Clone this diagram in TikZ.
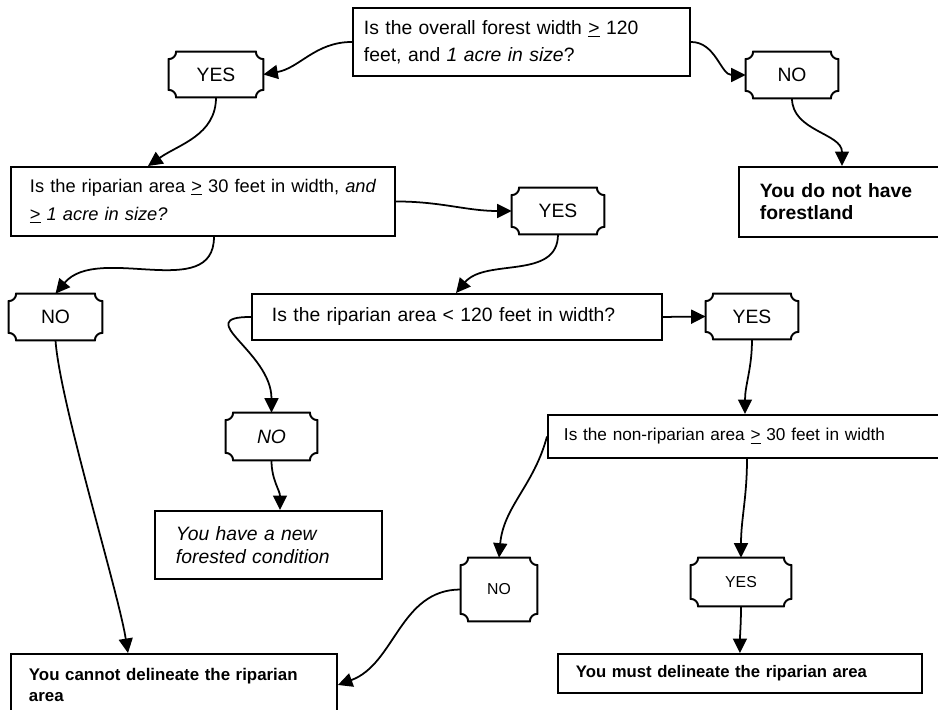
\documentclass[tikz,border=0pt]{standalone}
\usepackage{fontspec}
\setmainfont{Liberation Sans}
\usetikzlibrary{arrows.meta,calc}
\newlength\pxu
\setlength\pxu{0.02cm}
\newcommand{\scoopr}{1.5mm}
% answer frame with scooped corners
\newcommand{\scoopframe}[1]{\draw[line width=1.1pt] ([xshift=\scoopr]#1.north west) -- ([xshift=-\scoopr]#1.north east) arc[start angle=180,end angle=270,radius=\scoopr] -- ([yshift=\scoopr]#1.south east) arc[start angle=90,end angle=180,radius=\scoopr] -- ([xshift=\scoopr]#1.south west) arc[start angle=0,end angle=90,radius=\scoopr] -- ([yshift=-\scoopr]#1.north west) arc[start angle=270,end angle=360,radius=\scoopr] -- cycle;}
\tikzset{
  qbox/.style={draw,line width=1.1pt,anchor=north west,align=left,inner ysep=0pt},
  answer/.style={draw=none,inner sep=0pt,font=\fontsize{11}{13}\selectfont},
  arr/.style={line width=1pt,-{Triangle[length=2.9mm,width=2.8mm]}},
}
\begin{document}
\begin{tikzpicture}[x=0.02cm,y=-0.02cm]
\useasboundingbox (0,0) rectangle (938,710);
%questions and outcomes
\node[qbox,inner xsep=11\pxu,text width=315\pxu,minimum height=68\pxu,font=\fontsize{11}{15.4}\selectfont] (qOverall) at (352,7) {Is the overall forest width \underline{>} 120\\feet, and \textit{1 acre in size}?};
\node[qbox,inner xsep=19\pxu,text width=346\pxu,minimum height=69\pxu,font=\fontsize{10.4}{16}\selectfont] (qRipWide) at (10,166) {\mbox{Is the riparian area \underline{>} 30 feet in width, \textit{and}}\\\underline{>} \textit{1 acre in size?}};
\node[qbox,inner xsep=21\pxu,text width=170\pxu,minimum height=70\pxu,font=\bfseries\fontsize{11}{12.5}\selectfont] (endNoForest) at (738,166) {You do not have\\forestland};
\node[qbox,inner xsep=20\pxu,text width=370\pxu,minimum height=46\pxu,font=\fontsize{11}{13}\selectfont] (qLess) at (251,293) {Is the riparian area < 120 feet in width?};
\node[qbox,inner xsep=16\pxu,text width=370\pxu,minimum height=43\pxu,font=\fontsize{9.8}{12}\selectfont] (qNonRip) at (547,414) {Is the non-riparian area \underline{>} 30 feet in width};
\node[qbox,inner xsep=21\pxu,text width=185\pxu,minimum height=68\pxu,font=\itshape\fontsize{11}{13}\selectfont] (endNew) at (154,510) {You have a new\\forested condition};
\node[qbox,inner xsep=18\pxu,text width=328\pxu,minimum height=39\pxu,font=\bfseries\fontsize{9.5}{11.5}\selectfont] (endMust) at (557,653) {You must delineate the riparian area};
\node[qbox,inner xsep=18\pxu,text width=290\pxu,minimum height=62\pxu,font=\bfseries\fontsize{9.6}{11.5}\selectfont] (endCannot) at (10,653) {You cannot delineate the riparian\\area};
%yes / no answers
\node[answer,minimum width=94\pxu,minimum height=45\pxu] (yesA) at (216,74.5) {YES};
\node[answer,minimum width=92\pxu,minimum height=46\pxu] (noA) at (792,75) {NO};
\node[answer,minimum width=92\pxu,minimum height=46\pxu] (yesB) at (558,211) {YES};
\node[answer,minimum width=93\pxu,minimum height=46\pxu] (noB) at (55.5,317) {NO};
\node[answer,minimum width=92\pxu,minimum height=45\pxu] (yesC) at (752,316.5) {YES};
\node[answer,minimum width=91\pxu,minimum height=47\pxu,font=\itshape\fontsize{11}{13}\selectfont] (noC) at (271.5,436.5) {NO};
\node[answer,minimum width=76\pxu,minimum height=63\pxu,font=\fontsize{9}{11}\selectfont] (noD) at (499,589.5) {NO};
\node[answer,minimum width=100\pxu,minimum height=48\pxu,font=\fontsize{9}{11}\selectfont] (yesD) at (741,582) {YES};
\foreach \n in {yesA,noA,yesB,noB,yesC,noC,noD,yesD} \scoopframe{\n};
%connectors
\draw[arr] (qOverall.west) to[out=180,in=10] (yesA.east);
\draw[arr] (qOverall.east) to[out=0,in=180] (noA.west);
\draw[arr] (yesA.south) to[out=-90,in=35] ($(qRipWide.north west)+(138,0)$);
\draw[arr] (noA.south) to[out=-90,in=90] ($(endNoForest.north west)+(104,0)$);
\draw[arr] (qRipWide.east) to[out=0,in=180] (yesB.west);
\draw[arr] ($(qRipWide.south)+(11,0)$) to[out=-90,in=50] (noB.north);
\draw[arr] (yesB.south) to[out=-90,in=50] ($(qLess.north west)+(205,0)$);
\draw[arr] (qLess.east) -- (yesC.west);
\draw[arr] (qLess.west) to[out=180,in=90,looseness=1.6] (noC.north);
\draw[arr] (noC.south) to[out=-90,in=90] ($(endNew.north west)+(126,0)$);
\draw[arr] (noB.south) to[out=-86,in=99,looseness=0.5] ($(endCannot.north west)+(118,0)$);
\draw[arr] (yesC.south) to[out=-90,in=90] ($(qNonRip.north west)+(198,0)$);
\draw[arr] (qNonRip.west) to[out=-105,in=85] (noD.north);
\draw[arr] ($(qNonRip.south west)+(200,0)$) to[out=-90,in=90] (yesD.north);
\draw[arr] (yesD.south) to[out=-90,in=90] (endMust.north);
\draw[arr] (noD.west) to[out=180,in=20] (endCannot.east);
\end{tikzpicture}
\end{document}
